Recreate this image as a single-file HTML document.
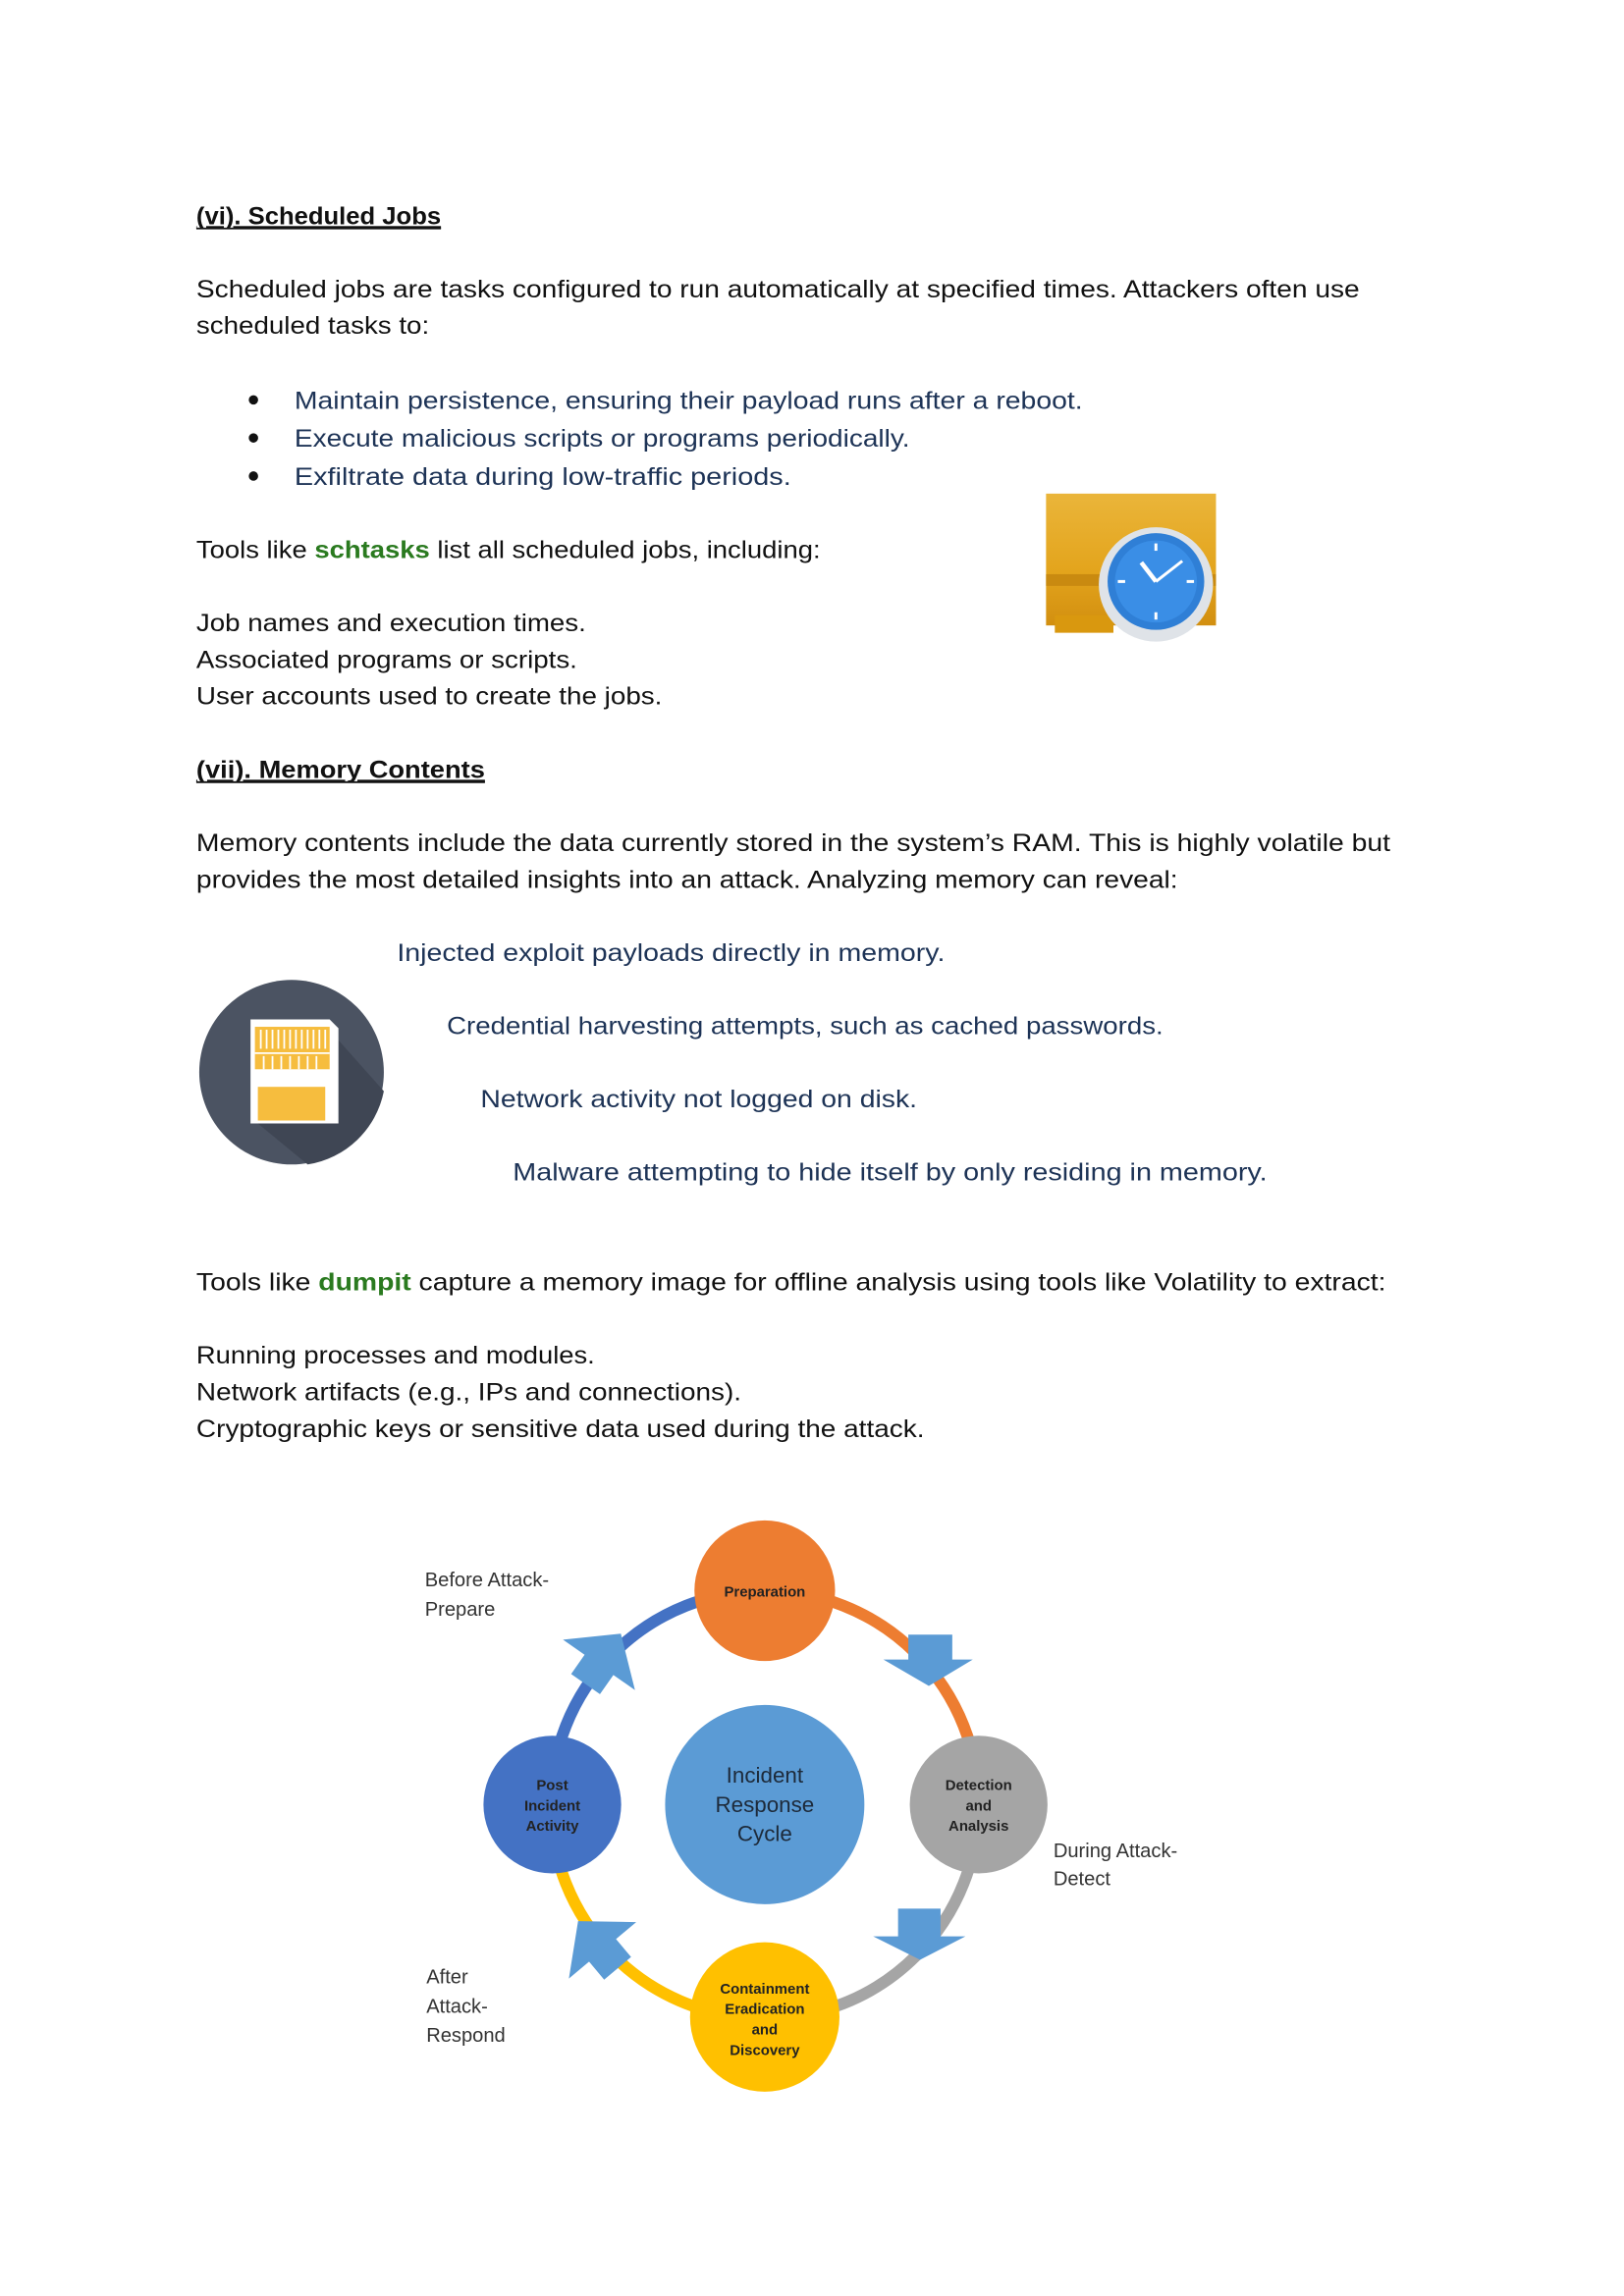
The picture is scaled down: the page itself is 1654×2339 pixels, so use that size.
<!DOCTYPE html>
<html><head><meta charset="utf-8"><style>
html,body{margin:0;padding:0;background:#fff}
svg{display:block}
.t{font-family:"Liberation Sans",sans-serif;font-size:16.5px;fill:#111}
.n{fill:#1d3356}
.h{font-weight:bold;text-decoration:underline}
.g{fill:#2a7a1f;font-weight:bold}
.d{font-family:"Liberation Sans",sans-serif;font-size:13.5px;fill:#333}
.c{font-family:"Liberation Sans",sans-serif;font-size:10px;font-weight:bold;fill:#222}
</style></head><body>
<svg width="1654" height="2339" viewBox="0 0 1108.5 1567.5" preserveAspectRatio="none" xmlns="http://www.w3.org/2000/svg">
<rect width="1110" height="1570" fill="#fff"/>
<g class="t">
<text x="134" y="153" class="h" textLength="167" lengthAdjust="spacingAndGlyphs">(vi). Scheduled Jobs</text>
<line x1="134" y1="156" x2="301" y2="156" stroke="#111" stroke-width="1.2"/>
<text x="134" y="203" textLength="794" lengthAdjust="spacingAndGlyphs">Scheduled jobs are tasks configured to run automatically at specified times. Attackers often use</text>
<text x="134" y="228" textLength="159" lengthAdjust="spacingAndGlyphs">scheduled tasks to:</text>
<circle cx="173" cy="273" r="3.2" fill="#111"/><circle cx="173" cy="299" r="3.2" fill="#111"/><circle cx="173" cy="325" r="3.2" fill="#111"/>
<text x="201" y="279" class="n" textLength="538" lengthAdjust="spacingAndGlyphs">Maintain persistence, ensuring their payload runs after a reboot.</text>
<text x="201" y="305" class="n" textLength="420" lengthAdjust="spacingAndGlyphs">Execute malicious scripts or programs periodically.</text>
<text x="201" y="331" class="n" textLength="339" lengthAdjust="spacingAndGlyphs">Exfiltrate data during low-traffic periods.</text>
<text x="134" y="381" textLength="426" lengthAdjust="spacingAndGlyphs">Tools like <tspan class="g">schtasks</tspan> list all scheduled jobs, including:</text>
<text x="134" y="431" textLength="266" lengthAdjust="spacingAndGlyphs">Job names and execution times.</text>
<text x="134" y="456" textLength="260" lengthAdjust="spacingAndGlyphs">Associated programs or scripts.</text>
<text x="134" y="481" textLength="318" lengthAdjust="spacingAndGlyphs">User accounts used to create the jobs.</text>
<text x="134" y="531" class="h" textLength="197" lengthAdjust="spacingAndGlyphs">(vii). Memory Contents</text>
<line x1="134" y1="534" x2="331" y2="534" stroke="#111" stroke-width="1.2"/>
<text x="134" y="581" textLength="815" lengthAdjust="spacingAndGlyphs">Memory contents include the data currently stored in the system’s RAM. This is highly volatile but</text>
<text x="134" y="606" textLength="670" lengthAdjust="spacingAndGlyphs">provides the most detailed insights into an attack. Analyzing memory can reveal:</text>
<text x="271" y="656" class="n" textLength="374" lengthAdjust="spacingAndGlyphs">Injected exploit payloads directly in memory.</text>
<text x="305" y="706" class="n" textLength="489" lengthAdjust="spacingAndGlyphs">Credential harvesting attempts, such as cached passwords.</text>
<text x="328" y="756" class="n" textLength="298" lengthAdjust="spacingAndGlyphs">Network activity not logged on disk.</text>
<text x="350" y="806" class="n" textLength="515" lengthAdjust="spacingAndGlyphs">Malware attempting to hide itself by only residing in memory.</text>
<text x="134" y="881" textLength="812" lengthAdjust="spacingAndGlyphs">Tools like <tspan class="g">dumpit</tspan> capture a memory image for offline analysis using tools like Volatility to extract:</text>
<text x="134" y="931" textLength="272" lengthAdjust="spacingAndGlyphs">Running processes and modules.</text>
<text x="134" y="956" textLength="372" lengthAdjust="spacingAndGlyphs">Network artifacts (e.g., IPs and connections).</text>
<text x="134" y="981" textLength="497" lengthAdjust="spacingAndGlyphs">Cryptographic keys or sensitive data used during the attack.</text>
</g>
<defs><linearGradient id="fg" x1="0" y1="0" x2="0" y2="1"><stop offset="0" stop-color="#eab53a"/><stop offset="0.6" stop-color="#e3a41c"/><stop offset="1" stop-color="#d28f10"/></linearGradient></defs>
<rect x="714" y="337" width="116" height="90" fill="url(#fg)"/>
<rect x="714" y="392" width="116" height="8" fill="#c98a10"/>
<path d="M720 420 L720 432 L760 432 L760 420Z" fill="#d9980f"/>
<circle cx="789" cy="399" r="39" fill="#dfe3e8"/>
<circle cx="789" cy="397" r="33" fill="#2f7fd6"/>
<circle cx="789" cy="397" r="28" fill="#3a8ee6"/>
<line x1="789" y1="397" x2="779" y2="384" stroke="#fff" stroke-width="3"/>
<line x1="789" y1="397" x2="807" y2="383" stroke="#fff" stroke-width="2"/>
<rect x="788" y="371" width="2" height="5" fill="#fff"/><rect x="788" y="418" width="2" height="5" fill="#fff"/>
<rect x="763" y="396" width="5" height="2" fill="#fff"/><rect x="810" y="396" width="5" height="2" fill="#fff"/>
<circle cx="199" cy="732" r="63" fill="#4b5362"/>
<path d="M222 700 L262 745 A63 63 0 0 1 210 795 L176 767Z" fill="#3f4654"/>
<path d="M171 696 L225 696 L231 702 L231 767 L171 767Z" fill="#fff"/>
<rect x="174" y="701" width="51" height="29" fill="#f6bd3e"/>
<g stroke="#fff" stroke-width="1.2"><line x1="178" y1="703" x2="178" y2="716"/><line x1="182" y1="703" x2="182" y2="716"/><line x1="186" y1="703" x2="186" y2="716"/><line x1="190" y1="703" x2="190" y2="716"/><line x1="194" y1="703" x2="194" y2="716"/><line x1="198" y1="703" x2="198" y2="716"/><line x1="202" y1="703" x2="202" y2="716"/><line x1="206" y1="703" x2="206" y2="716"/><line x1="210" y1="703" x2="210" y2="716"/><line x1="214" y1="703" x2="214" y2="716"/><line x1="218" y1="703" x2="218" y2="716"/><line x1="222" y1="703" x2="222" y2="716"/>
<line x1="174" y1="719" x2="225" y2="719"/>
<line x1="180" y1="721" x2="180" y2="730"/><line x1="186" y1="721" x2="186" y2="730"/><line x1="192" y1="721" x2="192" y2="730"/><line x1="198" y1="721" x2="198" y2="730"/><line x1="204" y1="721" x2="204" y2="730"/><line x1="210" y1="721" x2="210" y2="730"/><line x1="216" y1="721" x2="216" y2="730"/></g>
<rect x="176" y="742" width="46" height="23" fill="#f6bd3e"/>
<g fill="none" stroke-width="8">
<path d="M522 1086 A146 146 0 0 1 668 1232" stroke="#ed7d31"/>
<path d="M668 1232 A146 146 0 0 1 522 1378" stroke="#a5a5a5"/>
<path d="M522 1378 A146 146 0 0 1 376 1232" stroke="#ffc000"/>
<path d="M376 1232 A146 146 0 0 1 522 1086" stroke="#4472c4"/>
</g>
<g fill="#5b9bd5">
<polygon points="620,1116 650,1116 650,1133 664,1133 634,1151 603,1133 620,1133"/>
<polygon points="613,1303 642,1303 642,1322 659,1322 628,1338 596,1322 613,1322"/>
<g transform="translate(410,1330) rotate(-40)"><polygon points="-12,18 12,18 12,2 30,2 0,-24 -30,2 -12,2"/></g>
<g transform="translate(410,1135) rotate(35)"><polygon points="-12,18 12,18 12,2 30,2 0,-24 -30,2 -12,2"/></g>
</g>
<circle cx="522" cy="1086" r="48" fill="#ed7d31"/>
<circle cx="522" cy="1232" r="68" fill="#5b9bd5"/>
<circle cx="377" cy="1232" r="47" fill="#4472c4"/>
<circle cx="668" cy="1232" r="47" fill="#a5a5a5"/>
<circle cx="522" cy="1377" r="51" fill="#ffc000"/>
<g class="c" text-anchor="middle">
<text x="522" y="1090">Preparation</text>
<text x="377" y="1222">Post</text><text x="377" y="1236">Incident</text><text x="377" y="1250">Activity</text>
<text x="668" y="1222">Detection</text><text x="668" y="1236">and</text><text x="668" y="1250">Analysis</text>
<text x="522" y="1361">Containment</text><text x="522" y="1375">Eradication</text><text x="522" y="1389">and</text><text x="522" y="1403">Discovery</text>
</g>
<g font-family="Liberation Sans,sans-serif" font-size="15" fill="#1d2a3a" text-anchor="middle">
<text x="522" y="1217">Incident</text><text x="522" y="1237">Response</text><text x="522" y="1257">Cycle</text>
</g>
<g class="d">
<text x="290" y="1083">Before Attack-</text><text x="290" y="1103">Prepare</text>
<text x="719" y="1268">During Attack-</text><text x="719" y="1287">Detect</text>
<text x="291" y="1354">After</text><text x="291" y="1374">Attack-</text><text x="291" y="1394">Respond</text>
</g>
</svg>
</body></html>
